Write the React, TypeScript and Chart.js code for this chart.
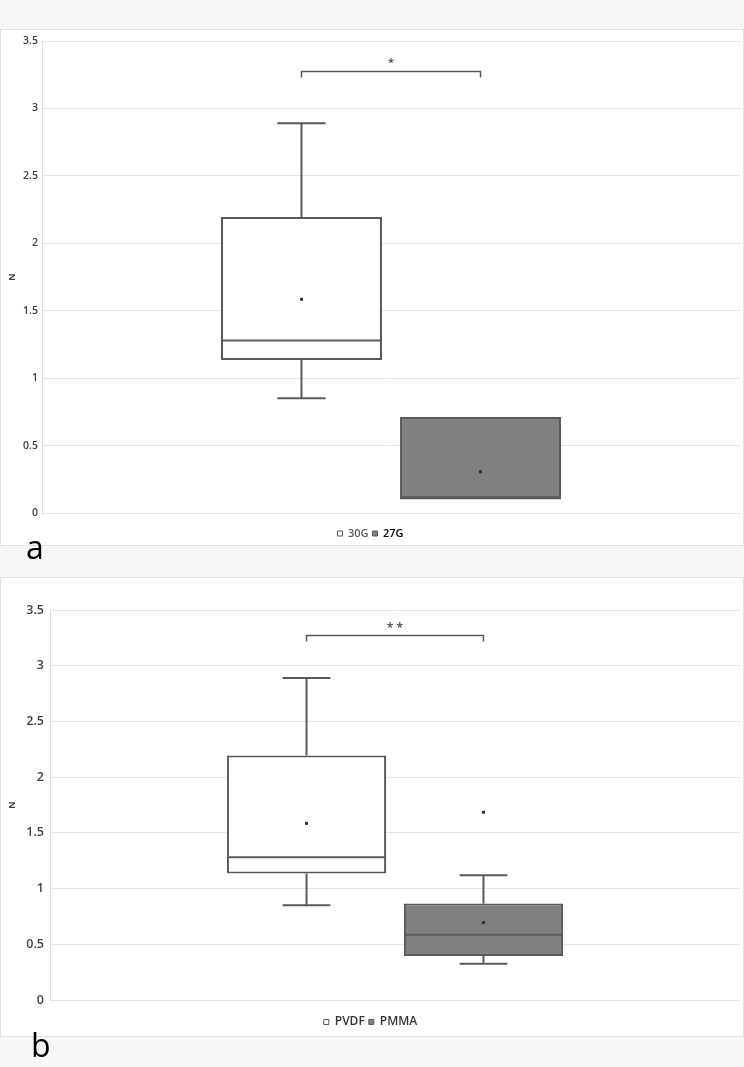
import { useEffect, useRef } from 'react';
import { Chart, registerables } from 'chart.js';

Chart.register(...registerables);

// ---------- data ----------
const groupsA = ['30G', '27G'];
const minA = [0.85, 0.1];
const q1A = [1.135, 0.1];
const medianA = [1.28, 0.116];
const q3A = [2.195, 0.712];
const maxA = [2.89, 0.712];
const meanA = [1.585, 0.306];
const outliersA: number[][] = [[], []];
const sigTextA = '*';

const groupsB = ['PVDF', 'PMMA'];
const minB = [0.85, 0.325];
const q1B = [1.135, 0.395];
const medianB = [1.28, 0.585];
const q3B = [2.195, 0.865];
const maxB = [2.89, 1.12];
const meanB = [1.585, 0.695];
const outliersB: number[][] = [[], [1.685]];
const sigTextB = '* *';

const yMin = 0;
const yMax = 3.5;
const yStep = 0.5;
const sigBracketY = 3.28;
const sigLabelY = 3.355;
const yTitle = 'N';

const FILLS = ['#ffffff', '#808080'];
const STROKE = '#595959';
const FONT = '"Open Sans", "Noto Sans", sans-serif';

const boxPlugin = {
  id: 'boxes',
  afterDatasetsDraw(chart: any, _args: any, opts: any) {
    const { ctx } = chart;
    const ys = chart.scales.y;
    const py = (v: number) => ys.getPixelForValue(v);
    const centers: number[] = [];
    ctx.save();
    ctx.strokeStyle = STROKE;
    ctx.lineWidth = 2;
    const line = (x1: number, y1: number, x2: number, y2: number) => {
      ctx.beginPath();
      ctx.moveTo(x1, y1);
      ctx.lineTo(x2, y2);
      ctx.stroke();
    };
    chart.data.datasets.forEach((_ds: any, i: number) => {
      const bar = chart.getDatasetMeta(i).data[0];
      const x = bar.x;
      const w = bar.width;
      const cap = w * 0.3;
      centers.push(x);
      if (opts.maxs[i] > opts.q3s[i]) {
        line(x, py(opts.q3s[i]), x, py(opts.maxs[i]));
        line(x - cap / 2, py(opts.maxs[i]), x + cap / 2, py(opts.maxs[i]));
      }
      if (opts.mins[i] < opts.q1s[i]) {
        line(x, py(opts.q1s[i]), x, py(opts.mins[i]));
        line(x - cap / 2, py(opts.mins[i]), x + cap / 2, py(opts.mins[i]));
      }
      line(x - w / 2 + 1, py(opts.medians[i]), x + w / 2 - 1, py(opts.medians[i]));
      ctx.fillStyle = '#333333';
      ctx.fillRect(x - 1.5, py(opts.means[i]) - 1.5, 3, 3);
      (opts.outliers[i] || []).forEach((o: number) => {
        ctx.fillRect(x - 1.5, py(o) - 1.5, 3, 3);
      });
    });
    // significance bracket
    if (centers.length === 2) {
      const by = Math.round(py(opts.sigY)) + 0.5;
      ctx.lineWidth = 1.5;
      ctx.beginPath();
      ctx.moveTo(centers[0], by + 6);
      ctx.lineTo(centers[0], by);
      ctx.lineTo(centers[1], by);
      ctx.lineTo(centers[1], by + 6);
      ctx.stroke();
      ctx.fillStyle = '#404040';
      ctx.font = `600 ${opts.sigSize}px ${FONT}`;
      ctx.textAlign = 'center';
      ctx.textBaseline = 'middle';
      ctx.fillText(opts.sig, (centers[0] + centers[1]) / 2, py(opts.sigLabelY) + 2);
    }
    ctx.restore();
  },
};

type Props = {
  groups: string[];
  mins: number[];
  q1s: number[];
  medians: number[];
  q3s: number[];
  maxs: number[];
  means: number[];
  outliers: number[][];
  sig: string;
  width: number;
  height: number;
  axisWidth: number;
  tickSize: number;
  tickPad: number;
  padTop: number;
  xGap: number;
  legendSize: number;
  legendColors: string[];
  sigSize: number;
};

function BoxChart(p: Props) {
  const ref = useRef<HTMLCanvasElement | null>(null);
  useEffect(() => {
    if (!ref.current) return;
    const chart = new Chart(ref.current, {
      type: 'bar',
      data: {
        labels: [''],
        datasets: p.groups.map((g, i) => ({
          label: g,
          data: [[p.q1s[i], p.q3s[i]]],
          backgroundColor: FILLS[i],
          borderColor: STROKE,
          borderWidth: 2,
          borderSkipped: false,
          categoryPercentage: 0.513,
          barPercentage: 0.899,
        })) as any,
      },
      options: {
        animation: false,
        responsive: false,
        maintainAspectRatio: false,
        layout: { padding: { top: p.padTop, right: 3, left: 0, bottom: 0 } },
        scales: {
          x: {
            display: true,
            grid: { display: false },
            border: { display: false },
            ticks: { display: false },
            afterFit: (s: any) => {
              s.height = p.xGap;
            },
          },
          y: {
            min: yMin,
            max: yMax,
            ticks: {
              stepSize: yStep,
              padding: p.tickPad,
              color: '#404040',
              font: { family: FONT, size: p.tickSize, weight: '600' },
              callback: (v: any) => String(Number(v)),
            },
            grid: { color: '#e6e6e6', drawTicks: false },
            border: { color: '#e0e0e0' },
            title: {
              display: true,
              text: yTitle,
              color: '#404040',
              font: { family: FONT, size: 9, weight: 'bold' },
              padding: { top: 6, bottom: 0 },
            },
            afterFit: (s: any) => {
              s.width = p.axisWidth;
            },
          },
        },
        plugins: {
          tooltip: { enabled: false },
          legend: {
            display: true,
            position: 'bottom',
            labels: {
              boxWidth: 5,
              boxHeight: 5,
              padding: 4,
              font: { family: FONT, size: p.legendSize, weight: '600' },
              generateLabels: (c: any) =>
                c.data.datasets.map((ds: any, i: number) => ({
                  text: ds.label,
                  fillStyle: ds.backgroundColor,
                  strokeStyle: STROKE,
                  lineWidth: 1,
                  fontColor: p.legendColors[i],
                  hidden: false,
                  datasetIndex: i,
                })),
            },
          },
          boxes: {
            mins: p.mins,
            q1s: p.q1s,
            medians: p.medians,
            q3s: p.q3s,
            maxs: p.maxs,
            means: p.means,
            outliers: p.outliers,
            sig: p.sig,
            sigY: sigBracketY,
            sigLabelY: sigLabelY,
            sigSize: p.sigSize,
          },
        } as any,
      },
      plugins: [boxPlugin as any],
    });
    return () => chart.destroy();
  }, []);
  return <canvas ref={ref} width={p.width} height={p.height} style={{ display: 'block', width: p.width, height: p.height }} />;
}

export default function App() {
  return (
    <div
      style={{
        position: 'absolute',
        left: 0,
        top: 0,
        width: 744,
        height: 1067,
        background: '#f7f7f7',
        overflow: 'hidden',
        fontFamily: FONT,
      }}
    >
      <div
        style={{
          position: 'absolute',
          left: 0,
          top: 29,
          width: 744,
          height: 517,
          boxSizing: 'border-box',
          border: '1px solid #e2e2e2',
          background: '#ffffff',
          overflow: 'hidden',
        }}
      >
        <BoxChart
          groups={groupsA}
          mins={minA}
          q1s={q1A}
          medians={medianA}
          q3s={q3A}
          maxs={maxA}
          means={meanA}
          outliers={outliersA}
          sig={sigTextA}
          width={742}
          height={519}
          axisWidth={41}
          tickSize={10.5}
          tickPad={4}
          padTop={11}
          xGap={11}
          legendSize={11}
          legendColors={['#595959', '#000000']}
          sigSize={11}
        />
      </div>
      <div style={{ position: 'absolute', left: 26, top: 531, fontSize: 32, lineHeight: '32px', color: '#000' }}>a</div>
      <div
        style={{
          position: 'absolute',
          left: 0,
          top: 577,
          width: 744,
          height: 460,
          boxSizing: 'border-box',
          border: '1px solid #e2e2e2',
          background: '#ffffff',
          overflow: 'hidden',
        }}
      >
        <BoxChart
          groups={groupsB}
          mins={minB}
          q1s={q1B}
          medians={medianB}
          q3s={q3B}
          maxs={maxB}
          means={meanB}
          outliers={outliersB}
          sig={sigTextB}
          width={742}
          height={460}
          axisWidth={49}
          tickSize={12.5}
          tickPad={6}
          padTop={32}
          xGap={12}
          legendSize={12}
          legendColors={['#333333', '#333333']}
          sigSize={12}
        />
      </div>
      <div style={{ position: 'absolute', left: 31, top: 1029, fontSize: 32, lineHeight: '32px', color: '#000' }}>b</div>
    </div>
  );
}
